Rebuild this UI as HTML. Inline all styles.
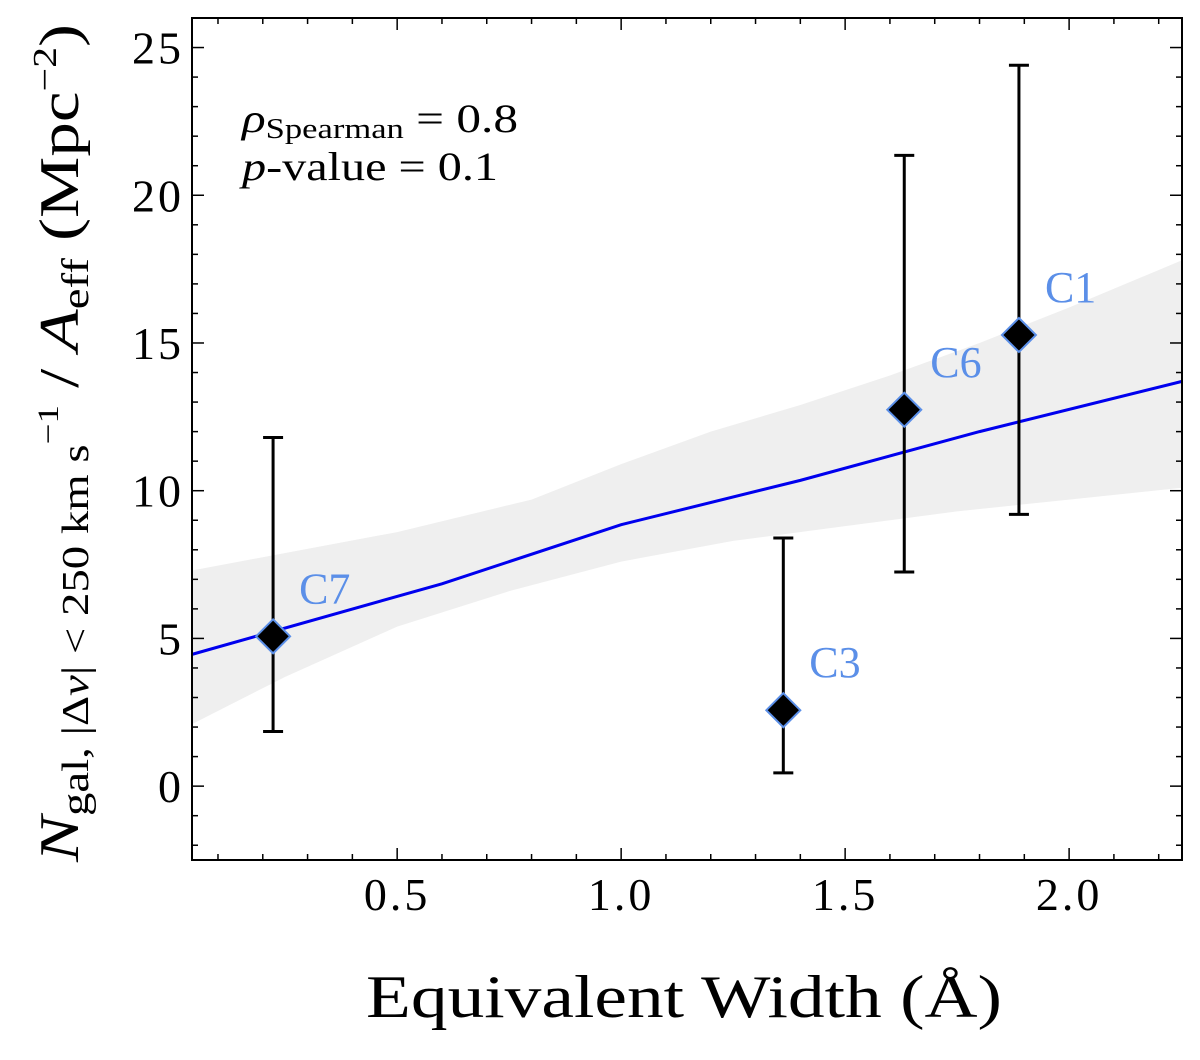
<!DOCTYPE html>
<html><head><meta charset="utf-8"><style>
body{margin:0;background:#fff;}
svg text{font-family:"Liberation Serif","DejaVu Serif",serif;}
</style></head><body>
<svg id="chart" width="1200" height="1055" viewBox="0 0 1200 1055" xmlns="http://www.w3.org/2000/svg">
<g id="band"></g>
<g id="fit"></g>
<g id="pts"></g>
<g id="axes"></g>
<text x="242" y="132" font-size="40" textLength="276" lengthAdjust="spacingAndGlyphs"><tspan font-style="italic">ρ</tspan><tspan font-size="28" dy="6">Spearman</tspan><tspan dy="-6"> = 0.8</tspan></text>
<text x="242" y="180" font-size="40" textLength="256" lengthAdjust="spacingAndGlyphs"><tspan font-style="italic">p</tspan>-value = 0.1</text>
<text x="366" y="1017" font-size="60" textLength="636" lengthAdjust="spacingAndGlyphs">Equivalent Width (Å)</text>
<text transform="translate(78,862) rotate(-90)" font-size="56" textLength="838" lengthAdjust="spacingAndGlyphs"><tspan font-style="italic">N</tspan><tspan font-size="38" dy="10">gal, |Δ<tspan font-style="italic">v</tspan>| &lt; 250 km s</tspan><tspan font-size="30" dy="-30">−1</tspan><tspan dy="20"> / </tspan><tspan font-style="italic">A</tspan><tspan font-size="38" dy="10">eff</tspan><tspan dy="-10"> (Mpc</tspan><tspan font-size="34" dy="-22">−2</tspan><tspan dy="22">)</tspan></text>
</svg>
<script>
const labels=["C7","C3","C6","C1"];
const xVals=[0.223,1.362,1.632,1.888];
const yVals=[5.07,2.57,12.74,15.27];
const yLow=[1.85,0.45,7.25,9.2];
const yHigh=[11.8,8.4,21.35,24.4];
const fitX=[0.042,0.6,1.0,1.4,1.8,2.252];
const fitY=[4.46,6.85,8.85,10.35,12.0,13.7];
const bandUpX=[0.042,0.5,0.8,1.0,1.2,1.4,1.6,1.8,2.0,2.252];
const bandUp=[7.3,8.6,9.7,10.9,12.0,12.9,13.9,15.0,16.2,17.8];
const bandLoX=[0.042,0.25,0.5,0.75,1.0,1.25,1.5,1.75,2.0,2.252];
const bandLo=[2.1,3.7,5.4,6.6,7.6,8.3,8.8,9.3,9.7,10.1];
const xTicks=[0.5,1.0,1.5,2.0];
const xTickLabels=["0.5","1.0","1.5","2.0"];
const yTicks=[0,5,10,15,20,25];
const yTickLabels=["0","5","10","15","20","25"];
const L=192,R=1182,T=18,B=860,xMin=0.042,xMax=2.252,yMin=-2.5,yMax=26;
const sx=v=>L+(v-xMin)/(xMax-xMin)*(R-L);
const sy=v=>B-(v-yMin)/(yMax-yMin)*(B-T);
const NS="http://www.w3.org/2000/svg";
function mk(tag,parent,attrs){const e=document.createElementNS(NS,tag);for(const k in attrs)e.setAttribute(k,attrs[k]);parent.appendChild(e);return e;}
const band=document.getElementById('band');
let d=bandUpX.map((x,i)=>(i?'L':'M')+sx(x)+','+sy(bandUp[i])).join('');
for(let i=bandLoX.length-1;i>=0;i--)d+='L'+sx(bandLoX[i])+','+sy(bandLo[i]);
const bp=mk('path',band,{d:d+'Z',fill:'#efefef'});


const fit=document.getElementById('fit');
const fl=mk('path',fit,{d:fitX.map((x,i)=>(i?'L':'M')+sx(x)+','+sy(fitY[i])).join(''),fill:'none',stroke:'#0000ee','stroke-width':3});


const pts=document.getElementById('pts');
xVals.forEach((x,i)=>{
 const g=mk('g',pts,{});
 
 
 const cx=sx(x),cy=sy(yVals[i]),y1=sy(yLow[i]),y2=sy(yHigh[i]);
 mk('line',g,{x1:cx,x2:cx,y1:y1,y2:y2,stroke:'#000','stroke-width':3});
 mk('line',g,{x1:cx-10,x2:cx+10,y1:y1,y2:y1,stroke:'#000','stroke-width':3});
 mk('line',g,{x1:cx-10,x2:cx+10,y1:y2,y2:y2,stroke:'#000','stroke-width':3});
 mk('path',g,{d:`M${cx},${cy-17}L${cx+17},${cy}L${cx},${cy+17}L${cx-17},${cy}Z`,fill:'#000',stroke:'#5b8fe8','stroke-width':2});
 const t=mk('text',g,{x:cx+26,y:cy-33,'font-size':44,fill:'#5b8fe8'});
 t.textContent=labels[i];
});
const ax=document.getElementById('axes');
mk('rect',ax,{x:L,y:T,width:R-L,height:B-T,fill:'none',stroke:'#000','stroke-width':2});
for(let v=0.1;v<=2.25;v+=0.1){const X=sx(v);const maj=Math.abs(v*2-Math.round(v*2))<1e-6;const len=maj?12:6;
 mk('line',ax,{x1:X,x2:X,y1:B,y2:B-len,stroke:'#000','stroke-width':1.5});
 mk('line',ax,{x1:X,x2:X,y1:T,y2:T+len,stroke:'#000','stroke-width':1.5});}
for(let v=-2;v<=26;v+=1){const Y=sy(v);const len=v%5===0?12:6;
 mk('line',ax,{x1:L,x2:L+len,y1:Y,y2:Y,stroke:'#000','stroke-width':1.5});
 mk('line',ax,{x1:R,x2:R-len,y1:Y,y2:Y,stroke:'#000','stroke-width':1.5});}
xTicks.forEach((v,i)=>{const t=mk('text',ax,{x:sx(v),y:910,'font-size':46,'text-anchor':'middle','letter-spacing':3});t.textContent=xTickLabels[i];});
yTicks.forEach((v,i)=>{const t=mk('text',ax,{x:184,y:sy(v)+16,'font-size':46,'text-anchor':'end','letter-spacing':3});t.textContent=yTickLabels[i];});
</script>
</body></html>
